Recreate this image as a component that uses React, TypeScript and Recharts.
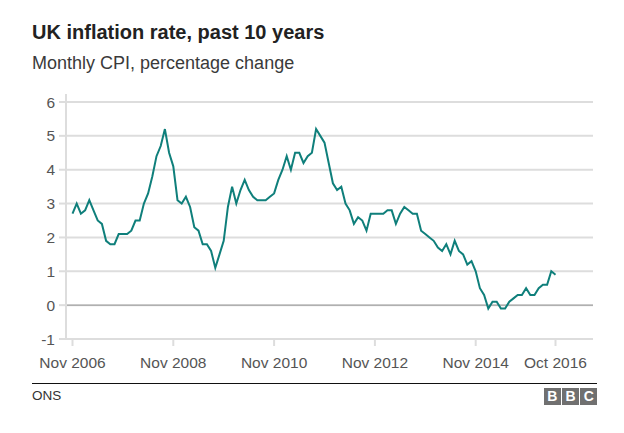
import { LineChart, Line, XAxis, YAxis, CartesianGrid, ReferenceLine } from 'recharts';

// month labels as plotted (the source skips a few months in 2015)
const months = [
  'Nov 2006', 'Dec 2006',
  'Jan 2007', 'Feb 2007', 'Mar 2007', 'Apr 2007', 'May 2007', 'Jun 2007', 'Jul 2007', 'Aug 2007', 'Sep 2007', 'Oct 2007', 'Nov 2007', 'Dec 2007',
  'Jan 2008', 'Feb 2008', 'Mar 2008', 'Apr 2008', 'May 2008', 'Jun 2008', 'Jul 2008', 'Aug 2008', 'Sep 2008', 'Oct 2008', 'Nov 2008', 'Dec 2008',
  'Jan 2009', 'Feb 2009', 'Mar 2009', 'Apr 2009', 'May 2009', 'Jun 2009', 'Jul 2009', 'Aug 2009', 'Sep 2009', 'Oct 2009', 'Nov 2009', 'Dec 2009',
  'Jan 2010', 'Feb 2010', 'Mar 2010', 'Apr 2010', 'May 2010', 'Jun 2010', 'Jul 2010', 'Aug 2010', 'Sep 2010', 'Oct 2010', 'Nov 2010', 'Dec 2010',
  'Jan 2011', 'Feb 2011', 'Mar 2011', 'Apr 2011', 'May 2011', 'Jun 2011', 'Jul 2011', 'Aug 2011', 'Sep 2011', 'Oct 2011', 'Nov 2011', 'Dec 2011',
  'Jan 2012', 'Feb 2012', 'Mar 2012', 'Apr 2012', 'May 2012', 'Jun 2012', 'Jul 2012', 'Aug 2012', 'Sep 2012', 'Oct 2012', 'Nov 2012', 'Dec 2012',
  'Jan 2013', 'Feb 2013', 'Mar 2013', 'Apr 2013', 'May 2013', 'Jun 2013', 'Jul 2013', 'Aug 2013', 'Sep 2013', 'Oct 2013', 'Nov 2013', 'Dec 2013',
  'Jan 2014', 'Feb 2014', 'Mar 2014', 'Apr 2014', 'May 2014', 'Jun 2014', 'Jul 2014', 'Aug 2014', 'Sep 2014', 'Oct 2014', 'Nov 2014', 'Dec 2014',
  'Jan 2015', 'Apr 2015', 'May 2015', 'Jul 2015', 'Sep 2015', 'Oct 2015', 'Nov 2015', 'Dec 2015',
  'Jan 2016', 'Feb 2016', 'Mar 2016', 'Apr 2016', 'May 2016', 'Jun 2016', 'Jul 2016', 'Aug 2016', 'Sep 2016', 'Oct 2016',
];

const cpi = [
  2.7, 3.0,
  2.7, 2.8, 3.1, 2.8, 2.5, 2.4, 1.9, 1.8, 1.8, 2.1, 2.1, 2.1,
  2.2, 2.5, 2.5, 3.0, 3.3, 3.8, 4.4, 4.7, 5.2, 4.5, 4.1, 3.1,
  3.0, 3.2, 2.9, 2.3, 2.2, 1.8, 1.8, 1.6, 1.1, 1.5, 1.9, 2.9,
  3.5, 3.0, 3.4, 3.7, 3.4, 3.2, 3.1, 3.1, 3.1, 3.2, 3.3, 3.7,
  4.0, 4.4, 4.0, 4.5, 4.5, 4.2, 4.4, 4.5, 5.2, 5.0, 4.8, 4.2,
  3.6, 3.4, 3.5, 3.0, 2.8, 2.4, 2.6, 2.5, 2.2, 2.7, 2.7, 2.7,
  2.7, 2.8, 2.8, 2.4, 2.7, 2.9, 2.8, 2.7, 2.7, 2.2, 2.1, 2.0,
  1.9, 1.7, 1.6, 1.8, 1.5, 1.9, 1.6, 1.5, 1.2, 1.3, 1.0, 0.5,
  0.3, -0.1, 0.1, 0.1, -0.1, -0.1, 0.1, 0.2,
  0.3, 0.3, 0.5, 0.3, 0.3, 0.5, 0.6, 0.6, 1.0, 0.9,
];

const xTickLabels = ['Nov 2006', 'Nov 2008', 'Nov 2010', 'Nov 2012', 'Nov 2014', 'Oct 2016'];
const yTicks = [-1, 0, 1, 2, 3, 4, 5, 6];

const data = months.map((month, i) => ({ i, month, cpi: cpi[i] }));
const xTicks = xTickLabels.map((t) => months.indexOf(t));

const FONT = '"Liberation Sans", Arial, Helvetica, sans-serif';
const GRID = '#dddddd';

export default function App() {
  return (
    <div style={{ position: 'absolute', left: 0, top: 0, width: 624, height: 433, background: '#fff', fontFamily: FONT }}>
      <div style={{ position: 'absolute', left: 32, top: 22.4, fontSize: 20, lineHeight: '20px', fontWeight: 700, color: '#222' }}>
        UK inflation rate, past 10 years
      </div>
      <div style={{ position: 'absolute', left: 32, top: 53.8, fontSize: 18, lineHeight: '18px', color: '#3a3a3a' }}>
        Monthly CPI, percentage change
      </div>

      {/* axis line stub above the top gridline */}
      <div style={{ position: 'absolute', left: 65, top: 94, width: 2, height: 8, background: GRID }} />

      <div style={{ position: 'absolute', left: 0, top: 0 }}>
        <LineChart width={624} height={433} data={data} margin={{ top: 102, right: 31, bottom: 0, left: 0 }}>
          <CartesianGrid vertical={false} stroke={GRID} strokeWidth={2} />
          <XAxis
            type="number"
            dataKey="i"
            domain={[0, months.length - 1]}
            ticks={xTicks}
            tickFormatter={(v) => months[v]}
            padding={{ left: 6.5, right: 37.5 }}
            axisLine={false}
            tickLine={{ stroke: GRID, strokeWidth: 2 }}
            tickSize={7}
            tickMargin={11}
            height={94}
            tick={{ fontSize: 15.5, fill: '#555', fontFamily: FONT }}
          />
          <YAxis
            domain={[-1, 6]}
            ticks={yTicks}
            width={66}
            axisLine={{ stroke: GRID, strokeWidth: 2 }}
            tickLine={{ stroke: GRID, strokeWidth: 2 }}
            tickSize={7}
            tickMargin={4}
            tick={{ fontSize: 15.5, fill: '#555', fontFamily: FONT }}
          />
          <ReferenceLine y={0} stroke="#b0b0b0" strokeWidth={1.5} />
          <Line
            type="linear"
            dataKey="cpi"
            stroke="#0f7f7b"
            strokeWidth={2}
            dot={false}
            isAnimationActive={false}
          />
        </LineChart>
      </div>

      <div style={{ position: 'absolute', left: 32, top: 383, width: 565, height: 1, background: '#111' }} />
      <div style={{ position: 'absolute', left: 32, top: 389, fontSize: 13.5, lineHeight: '13.5px', color: '#333' }}>ONS</div>
      <div style={{ position: 'absolute', left: 544, top: 388, display: 'flex', gap: 1.5 }}>
        {['B', 'B', 'C'].map((l, k) => (
          <div
            key={k}
            style={{
              width: 16.7,
              height: 17,
              background: '#707070',
              color: '#fff',
              fontWeight: 700,
              fontSize: 14,
              lineHeight: '17px',
              textAlign: 'center',
            }}
          >
            {l}
          </div>
        ))}
      </div>
    </div>
  );
}
